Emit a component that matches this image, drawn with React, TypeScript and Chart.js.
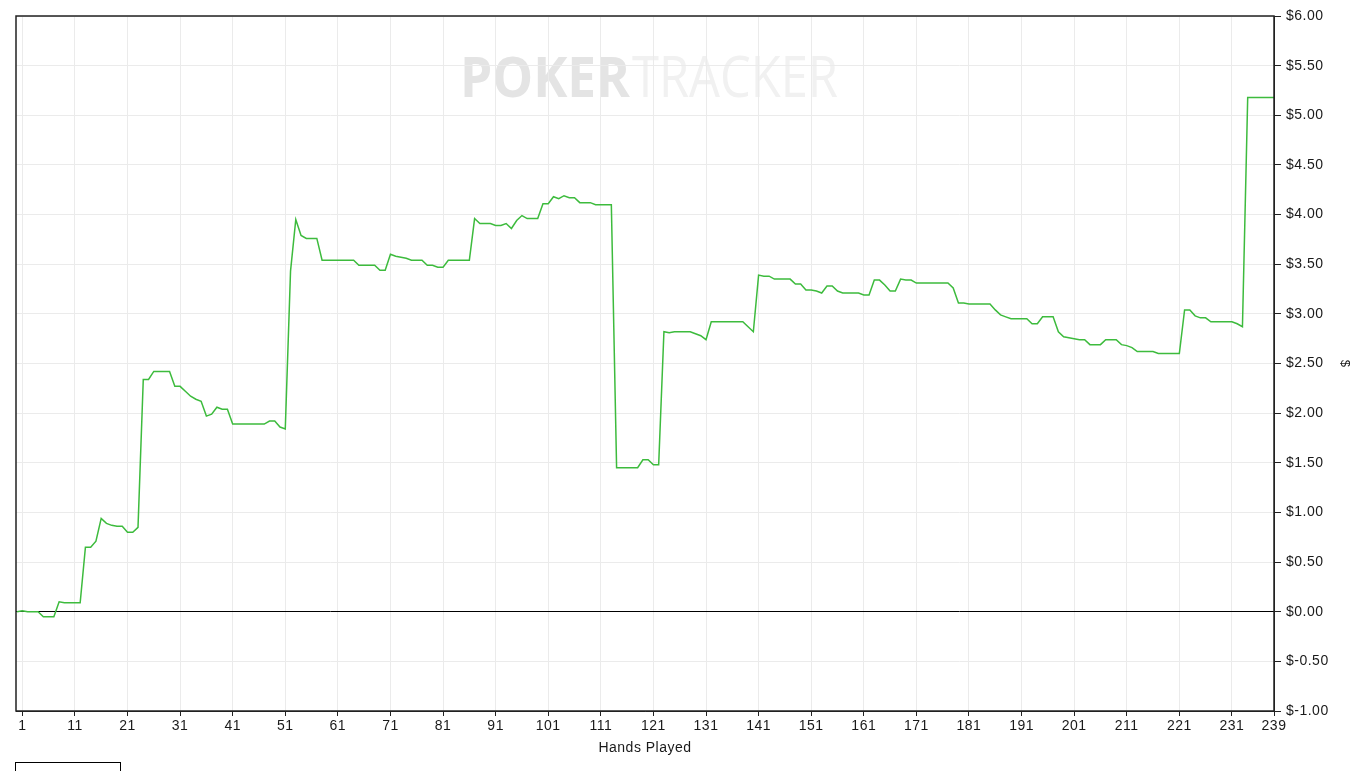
import React, { useEffect, useRef } from "react";
import { Chart, registerables } from "chart.js";

Chart.register(...registerables);

// Cumulative winnings ($) per hand, hand 0..239
const winnings: number[] = [
  0, 0.01, 0, 0, 0, -0.05, -0.05, -0.05, 0.10, 0.09,
  0.09, 0.09, 0.09, 0.65, 0.65, 0.71, 0.94, 0.89, 0.87, 0.86,
  0.86, 0.80, 0.80, 0.85, 2.34, 2.34, 2.42, 2.42, 2.42, 2.42,
  2.27, 2.27, 2.22, 2.17, 2.14, 2.12, 1.97, 1.99, 2.06, 2.04,
  2.04, 1.89, 1.89, 1.89, 1.89, 1.89, 1.89, 1.89, 1.92, 1.92,
  1.86, 1.84, 3.43, 3.95, 3.79, 3.76, 3.76, 3.76, 3.54, 3.54,
  3.54, 3.54, 3.54, 3.54, 3.54, 3.49, 3.49, 3.49, 3.49, 3.44,
  3.44, 3.60, 3.58, 3.57, 3.56, 3.54, 3.54, 3.54, 3.49, 3.49,
  3.47, 3.47, 3.54, 3.54, 3.54, 3.54, 3.54, 3.96, 3.91, 3.91,
  3.91, 3.89, 3.89, 3.91, 3.86, 3.94, 3.99, 3.96, 3.96, 3.96,
  4.11, 4.11, 4.18, 4.16, 4.19, 4.17, 4.17, 4.12, 4.12, 4.12,
  4.10, 4.10, 4.10, 4.10, 1.45, 1.45, 1.45, 1.45, 1.45, 1.53,
  1.53, 1.48, 1.48, 2.82, 2.81, 2.82, 2.82, 2.82, 2.82, 2.80,
  2.78, 2.74, 2.92, 2.92, 2.92, 2.92, 2.92, 2.92, 2.92, 2.87,
  2.82, 3.39, 3.38, 3.38, 3.35, 3.35, 3.35, 3.35, 3.30, 3.30,
  3.24, 3.24, 3.23, 3.21, 3.28, 3.28, 3.23, 3.21, 3.21, 3.21,
  3.21, 3.19, 3.19, 3.34, 3.34, 3.29, 3.23, 3.23, 3.35, 3.34,
  3.34, 3.31, 3.31, 3.31, 3.31, 3.31, 3.31, 3.31, 3.26, 3.11,
  3.11, 3.10, 3.10, 3.10, 3.10, 3.10, 3.04, 2.99, 2.97, 2.95,
  2.95, 2.95, 2.95, 2.90, 2.90, 2.97, 2.97, 2.97, 2.82, 2.77,
  2.76, 2.75, 2.74, 2.74, 2.69, 2.69, 2.69, 2.74, 2.74, 2.74,
  2.69, 2.68, 2.66, 2.62, 2.62, 2.62, 2.62, 2.60, 2.60, 2.60,
  2.60, 2.60, 3.04, 3.04, 2.98, 2.96, 2.96, 2.92, 2.92, 2.92,
  2.92, 2.92, 2.90, 2.87, 5.18, 5.18, 5.18, 5.18, 5.18, 5.18,
];

const xTickValues: number[] = [1, 11, 21, 31, 41, 51, 61, 71, 81, 91, 101, 111, 121, 131, 141, 151, 161, 171, 181, 191, 201, 211, 221, 231, 239];
const xTitle = "Hands Played";
const yTitle = "$";
const watermarkBold = "POKER";
const watermarkLight = "TRACKER";

const FONT = "'Liberation Sans', Arial, sans-serif";
const TEXT_COLOR = "#1a1a1a";

const watermarkPlugin = {
  id: "watermark",
  beforeDraw(chart: any) {
    const ctx = chart.ctx as any;
    ctx.save();
    ctx.textBaseline = "alphabetic";
    ctx.textAlign = "left";
    ctx.font = "bold 56px 'Open Sans', sans-serif";
    const w1 = ctx.measureText(watermarkBold).width;
    ctx.save();
    ctx.translate(460, 97);
    ctx.scale(170 / w1, 1);
    ctx.fillStyle = "#e4e4e4";
    ctx.fillText(watermarkBold, 0, 0);
    ctx.restore();
    ctx.font = "56px 'Open Sans', sans-serif";
    const w2 = ctx.measureText(watermarkLight).width;
    ctx.save();
    ctx.translate(632, 97);
    ctx.scale(206 / w2, 1);
    ctx.fillStyle = "#f1f1f1";
    ctx.fillText(watermarkLight, 0, 0);
    ctx.restore();
    ctx.restore();
    ctx.letterSpacing = "0.5px";
  },
  afterDraw(chart: any) {
    (chart.ctx as any).letterSpacing = "0px";
  },
};

const framePlugin = {
  id: "frame",
  afterDatasetsDraw(chart: any) {
    const { left, top, right, bottom } = chart.chartArea;
    const ctx = chart.ctx as CanvasRenderingContext2D;
    ctx.save();
    ctx.strokeStyle = "#222";
    ctx.lineWidth = 1.5;
    ctx.strokeRect(left, top, right - left, bottom - top);
    ctx.restore();
  },
};

export default function App() {
  const canvasRef = useRef<HTMLCanvasElement | null>(null);

  useEffect(() => {
    const canvas = canvasRef.current;
    if (!canvas) return;
    const chart = new Chart(canvas, {
      type: "line",
      data: {
        datasets: [
          {
            data: winnings.map((v, i) => ({ x: i, y: v })),
            borderColor: "#3dbb3d",
            borderWidth: 1.5,
            pointRadius: 0,
            tension: 0,
            fill: false,
          },
        ],
      },
      options: {
        responsive: false,
        animation: false,
        devicePixelRatio: 1,
        layout: { padding: { left: 16, top: 16, right: 0, bottom: 0 } },
        plugins: {
          legend: { display: false },
          tooltip: { enabled: false },
          title: { display: false },
        },
        scales: {
          x: {
            type: "linear",
            min: -0.2,
            max: 239,
            afterBuildTicks: (s: any) => {
              s.ticks = xTickValues.map((v) => ({ value: v }));
            },
            afterFit: (s: any) => {
              s.height = 60;
            },
            grid: { color: "#ebebeb", tickColor: "#222", tickLength: 5, drawTicks: true },
            border: { color: "#222", width: 1 },
            ticks: {
              autoSkip: false,
              maxRotation: 0,
              padding: 2,
              color: TEXT_COLOR,
              font: { family: FONT, size: 14 },
              callback: (v: any) => String(v),
            },
            title: {
              display: true,
              text: xTitle,
              color: TEXT_COLOR,
              font: { family: FONT, size: 14 },
              padding: { top: 0, bottom: 14 },
            },
          },
          y: {
            position: "right",
            min: -1,
            max: 6,
            afterFit: (s: any) => {
              s.width = 92;
            },
            grid: {
              color: (c: any) => (c.tick && Math.abs(c.tick.value) < 1e-9 ? "#000" : "#ebebeb"),
              tickColor: "#222",
              tickLength: 7,
            },
            border: { color: "#222", width: 1 },
            ticks: {
              stepSize: 0.5,
              padding: 5,
              color: TEXT_COLOR,
              font: { family: FONT, size: 14 },
              callback: (v: any) => "$" + Number(v).toFixed(2),
            },
            title: {
              display: true,
              text: yTitle,
              color: TEXT_COLOR,
              font: { family: FONT, size: 13 },
              padding: { top: 14, bottom: 0 },
            },
          },
        },
      },
      plugins: [watermarkPlugin, framePlugin],
    } as any);
    return () => chart.destroy();
  }, []);

  return (
    <div style={{ position: "absolute", left: 0, top: 0, width: 1366, height: 771, overflow: "hidden", background: "#fff" }}>
      <canvas ref={canvasRef} width={1366} height={771} style={{ display: "block" }} />
      <div
        style={{
          position: "absolute",
          left: 15,
          top: 762,
          width: 106,
          height: 9,
          border: "1px solid #000",
          borderBottom: "none",
          boxSizing: "border-box",
        }}
      />
    </div>
  );
}
